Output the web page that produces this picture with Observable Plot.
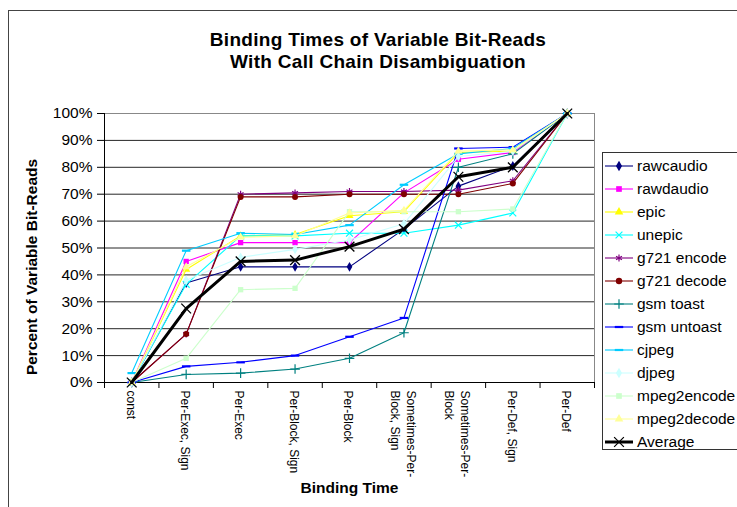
<!DOCTYPE html>
<html><head><meta charset="utf-8">
<script src="https://cdn.jsdelivr.net/npm/d3@7"></script>
<script src="https://cdn.jsdelivr.net/npm/@observablehq/plot@0.6"></script>
<style>
body{margin:0;background:#fff;font-family:"Liberation Sans",Arial,sans-serif;}
#wrap{position:relative;width:737px;height:507px;overflow:hidden;background:#fff;}
#border{position:absolute;left:8px;top:10px;width:800px;height:600px;border-left:1px solid #444;border-top:1px solid #444;}
#title{position:absolute;left:128px;width:500px;top:29px;text-align:center;font-weight:bold;font-size:19px;line-height:21.5px;letter-spacing:0.3px;color:#000;}
#chart{position:absolute;left:0;top:0;}
#legend{position:absolute;left:602px;top:152px;}
</style></head><body>
<div id="wrap"><div id="border"></div><div id="chart"></div>
<div id="title">Binding Times of Variable Bit-Reads<br>With Call Chain Disambiguation</div>
<div id="legend"></div></div>
<script>
// ---- data ----
const categories = ["const", "Per-Exec, Sign", "Per-Exec", "Per-Block, Sign", "Per-Block",
  "Sometimes-Per-\nBlock, Sign", "Sometimes-Per-\nBlock", "Per-Def, Sign", "Per-Def"];
const yTickValues = [0, 10, 20, 30, 40, 50, 60, 70, 80, 90, 100];
const seriesNames = ["rawcaudio", "rawdaudio", "epic", "unepic", "g721 encode", "g721 decode",
  "gsm toast", "gsm untoast", "cjpeg", "djpeg", "mpeg2encode", "mpeg2decode", "Average"];
const rawcaudio   = [0, 37, 43, 43, 43, 57, 73, 80.5, 100];
const rawdaudio   = [0, 45, 52, 52, 52, 70.5, 83, 85.5, 100];
const epic        = [0, 42, 54.5, 55, 62, 63.5, 85.5, 86, 100];
const unepic      = [0, 36.5, 54.5, 54.5, 55.5, 55.5, 58.5, 63, 100];
const g721encode  = [0, 18, 70, 70.5, 71, 71, 71.5, 75, 100];
const g721decode  = [0, 18, 69, 69, 70, 70, 70, 74, 100];
const gsmtoast    = [0, 3, 3.5, 5, 9, 18.5, 80, 85, 100];
const gsmuntoast  = [0, 6, 7.5, 10, 17, 24, 87, 87.5, 100];
const cjpeg       = [3.5, 49, 55.5, 55, 58.5, 73.5, 85, 87, 100];
const djpeg       = [0, 38, 46.5, 49.5, 53, 59, 84, 86, 100];
const mpeg2encode = [0, 9, 34.5, 35, 63.5, 63.5, 63.5, 64.5, 100];
const mpeg2decode = [0, 43, 54, 54.5, 63, 64, 86, 86.5, 100];
const average     = [0, 27.5, 45, 45.5, 50.5, 57, 76.5, 80, 100];
const seriesValues = [rawcaudio, rawdaudio, epic, unepic, g721encode, g721decode,
  gsmtoast, gsmuntoast, cjpeg, djpeg, mpeg2encode, mpeg2decode, average];

// ---- styles ----
const dash = {draw(ctx, size){ const w = Math.sqrt(size) * 0.75, h = 1.1;
  ctx.moveTo(-w, -h); ctx.lineTo(w, -h); ctx.lineTo(w, h); ctx.lineTo(-w, h); ctx.closePath(); }};
const seriesColors = ["#000080", "#FF00FF", "#FFFF00", "#00FFFF", "#800080", "#800000",
  "#008080", "#0000FF", "#00CCFF", "#CCFFFF", "#CCFFCC", "#FFFF99", "#000000"];
const seriesSymbols = [d3.symbolDiamond, d3.symbolSquare, d3.symbolTriangle, d3.symbolTimes,
  d3.symbolAsterisk, d3.symbolCircle, d3.symbolPlus, dash, dash, d3.symbolDiamond,
  d3.symbolSquare, d3.symbolTriangle, d3.symbolTimes];
const strokeSymbols = new Set([d3.symbolTimes, d3.symbolAsterisk, d3.symbolPlus]);

const xDomain = [-0.5, categories.length - 0.5];
const boundaries = d3.range(xDomain[0], xDomain[1] + 0.01, 1);

const marks = [
  Plot.gridY(yTickValues, {stroke: "#000", strokeOpacity: 0.85}),
  Plot.frame({stroke: "#888"}),
  Plot.ruleX([xDomain[0]], {stroke: "#000"}),
  Plot.ruleY([0], {stroke: "#000"}),
  Plot.axisY({ticks: yTickValues, tickFormat: d => d + "%", tickSize: 7, tickPadding: 5, fontSize: 15.5, label: null}),
  Plot.axisX({ticks: boundaries, tickFormat: () => "", tickSize: 6, label: null}),
  Plot.text(categories, {x: (d, i) => i, text: d => d, frameAnchor: "bottom", dy: 8, rotate: 90,
    textAnchor: "start", lineAnchor: "middle", lineHeight: 1.35, fontSize: 12}),
  Plot.text(["Binding Time"], {frameAnchor: "bottom", dy: 110, textAnchor: "middle", fontWeight: "bold", fontSize: 15.5}),
  Plot.text(["Percent of Variable Bit-Reads"], {frameAnchor: "left", dx: -72, dy: 19, rotate: -90,
    textAnchor: "middle", fontWeight: "bold", fontSize: 15.5})
];

seriesNames.forEach((name, k) => {
  const rows = seriesValues[k].map((v, i) => ({i, v}));
  const isAvg = name === "Average";
  const sym = seriesSymbols[k];
  marks.push(Plot.line(rows, {x: "i", y: "v", stroke: seriesColors[k], strokeWidth: isAvg ? 3 : 1.1}));
  if (strokeSymbols.has(sym)) {
    marks.push(Plot.dot(rows, {x: "i", y: "v", symbol: sym, r: isAvg ? 4.5 : 3.2, fill: "none",
      stroke: seriesColors[k], strokeWidth: isAvg ? 1.3 : 1.2}));
  } else {
    marks.push(Plot.dot(rows, {x: "i", y: "v", symbol: sym, r: sym === dash ? 3.2 : 3, fill: seriesColors[k], stroke: "none"}));
  }
});

const chart = Plot.plot({
  width: 737, height: 507,
  marginLeft: 104, marginRight: 143, marginTop: 113, marginBottom: 125,
  style: {fontFamily: "'Liberation Sans', Arial, sans-serif", fontSize: "15px", background: "transparent", color: "#000"},
  x: {type: "linear", domain: xDomain, axis: null},
  y: {domain: [0, 100], axis: null},
  marks
});
document.getElementById("chart").append(chart);

// ---- legend ----
const lg = d3.select("#legend").append("svg").attr("width", 140).attr("height", 300)
  .style("font-family", "'Liberation Sans', Arial, sans-serif");
lg.append("rect").attr("x", 0.5).attr("y", 0.5).attr("width", 150).attr("height", 297)
  .attr("fill", "#fff").attr("stroke", "#333");
seriesNames.forEach((name, k) => {
  const y = 14 + k * 23;
  const isAvg = name === "Average";
  const sym = seriesSymbols[k];
  const g = lg.append("g");
  g.append("line").attr("x1", 3).attr("x2", 31).attr("y1", y).attr("y2", y)
    .attr("stroke", seriesColors[k]).attr("stroke-width", isAvg ? 3 : 1.1);
  const r = isAvg ? 4.5 : 3.2;
  const p = g.append("path").attr("d", d3.symbol(sym, r * r * Math.PI)())
    .attr("transform", `translate(17,${y})`);
  if (strokeSymbols.has(sym)) p.attr("fill", "none").attr("stroke", seriesColors[k]).attr("stroke-width", 1.2);
  else p.attr("fill", seriesColors[k]);
  g.append("text").attr("x", 35).attr("y", y).attr("dy", "0.35em").attr("font-size", 15.5)
    .attr("fill", "#000").text(name);
});
</script>
</body></html>
